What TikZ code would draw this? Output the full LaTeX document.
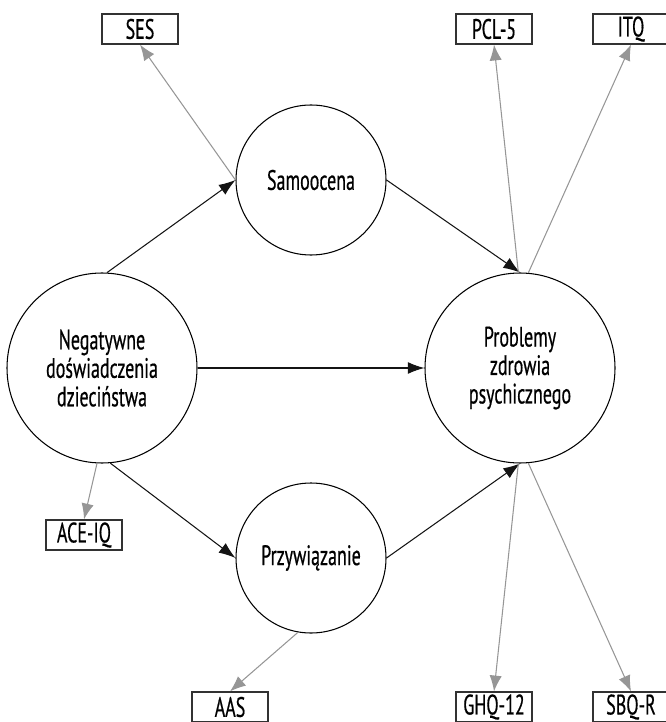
\documentclass[tikz,border=0pt]{standalone}
\usepackage{fontspec}
\setmainfont{PT Sans}[FakeStretch=0.64, FakeBold=0.5]
\usetikzlibrary{arrows.meta}
\definecolor{pathcolor}{RGB}{20,20,20}
\definecolor{loadcolor}{RGB}{150,150,150}
\definecolor{boxcolor}{RGB}{50,50,50}

\begin{document}
\begin{tikzpicture}[
    latent/.style={draw=black, line width=0.6pt, circle, inner sep=0pt, align=center,
        font=\fontsize{16}{16.2}\selectfont},
    indicator/.style={draw=boxcolor, line width=0.7pt, rectangle, inner sep=0pt,
        minimum width=1.52cm, minimum height=0.6cm, font=\fontsize{16}{16}\selectfont},
    pathline/.style={draw=pathcolor, line width=0.6pt,
        -{Latex[length=9.5pt, width=6.8pt]}},
    loadline/.style={draw=loadcolor, line width=0.6pt,
        -{Latex[length=9pt, width=7pt]}}
]
    \clip (0, 0) rectangle (13.32, -14.44);
    \useasboundingbox (0, 0) rectangle (13.32, -14.44);

    % Latent variables
    \node[latent, minimum size=3.8cm] (neg) at (2.04, -7.36) {Negatywne\\doświadczenia\\dzieciństwa};
    \node[latent, minimum size=3.8cm] (prob) at (10.4, -7.36) {Problemy\\zdrowia\\psychicznego};
    \node[latent, minimum size=3cm] (sam) at (6.22, -3.6) {Samoocena};
    \node[latent, minimum size=3cm] (prz) at (6.22, -11.16) {Przywiązanie};

    % Observed indicators
    \node[indicator] (ses) at (2.8, -0.58) {SES};
    \node[indicator] (pcl) at (9.88, -0.58) {PCL-5};
    \node[indicator] (itq) at (12.62, -0.58) {ITQ};
    \node[indicator] (ace) at (1.68, -10.7) {ACE-IQ};
    \node[indicator] (aas) at (4.6, -14.14) {AAS};
    \node[indicator] (ghq) at (9.88, -14.14) {GHQ-12};
    \node[indicator] (sbq) at (12.62, -14.14) {SBQ-R};

    % Structural paths
    \draw[pathline] (neg.87) -- (sam.west);
    \draw[pathline] (neg.east) -- (prob.west);
    \draw[pathline] (neg.-85) -- (prz.west);
    \draw[pathline] (sam.east) -- (prob.north);
    \draw[pathline] (prz.east) -- (prob.south);

    % Measurement paths
    \draw[loadline] (sam.west) -- (ses.south);
    \draw[loadline] (prob.91) -- (pcl.south);
    \draw[loadline] (prob.85) -- (itq.south);
    \draw[loadline] (neg.-93) -- (ace.north);
    \draw[loadline] (prz.-100) -- (aas.north);
    \draw[loadline] (prob.-91) -- (ghq.north);
    \draw[loadline] (prob.-85) -- (sbq.north);
\end{tikzpicture}
\end{document}
